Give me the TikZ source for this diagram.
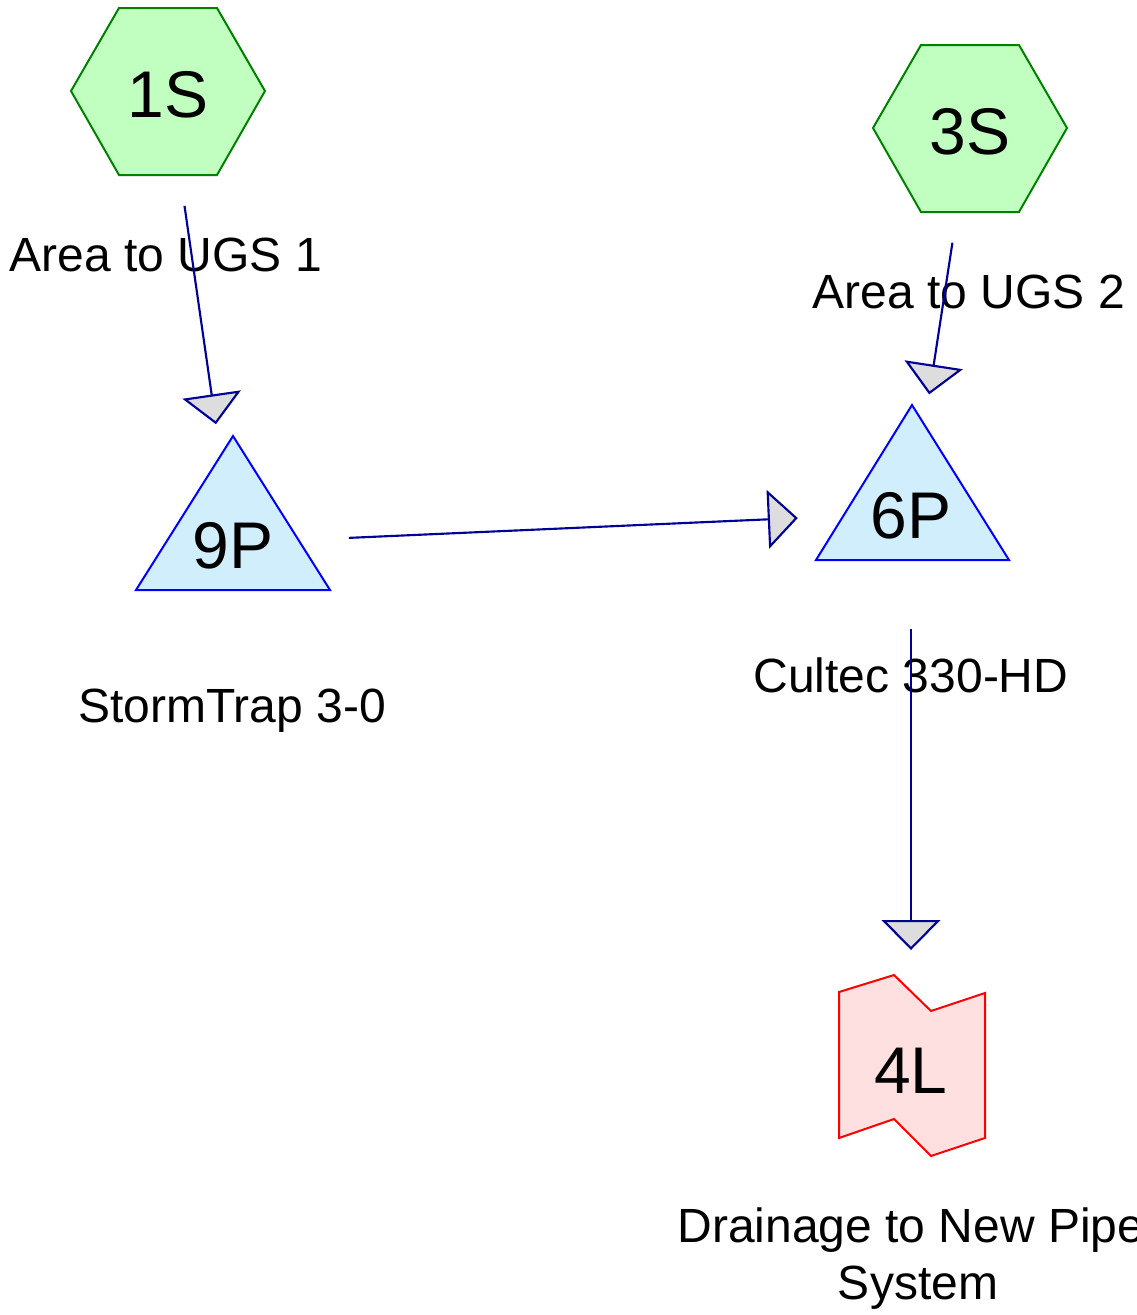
\documentclass[tikz,border=0pt]{standalone}
\usepackage{fontspec}
\setmainfont{Liberation Sans}
\usetikzlibrary{arrows.meta}
\definecolor{hexfill}{RGB}{192,255,192}
\definecolor{hexdraw}{RGB}{0,128,0}
\definecolor{pondfill}{RGB}{208,238,252}
\definecolor{ponddraw}{RGB}{0,0,255}
\definecolor{linkfill}{RGB}{255,224,224}
\definecolor{linkdraw}{RGB}{255,0,0}
\definecolor{flowcol}{RGB}{0,0,150}
\definecolor{tipfill}{RGB}{221,221,221}
\tikzset{
  hexshape/.style={draw=hexdraw,fill=hexfill,line width=1.5pt,line join=miter},
  pondshape/.style={draw=ponddraw,fill=pondfill,line width=1.5pt},
  linkshape/.style={draw=linkdraw,fill=linkfill,line width=1.5pt},
  idtext/.style={inner sep=0pt,anchor=base,font=\fontsize{49.5}{55}\selectfont},
  labeltext/.style={inner sep=0pt,anchor=base,font=\fontsize{36}{43}\selectfont,align=center},
  flow/.style={draw=flowcol,line width=1.6pt,
    -{Triangle[length=22.5pt,width=44pt,fill=tipfill]},
    shorten <=87pt,shorten >=90pt}
}
\begin{document}
\begin{tikzpicture}[x=0.75pt,y=-0.75pt]
\useasboundingbox (0,0) rectangle (1137,1315);
% shapes
\draw[hexshape] (71,91) -- (119,8) -- (217,8) -- (265,91) -- (217,175) -- (119,175) -- cycle;
\draw[hexshape] (873,128) -- (921,45) -- (1019,45) -- (1067,128) -- (1019,212) -- (921,212) -- cycle;
\draw[pondshape] (233,436) -- (330,590) -- (136,590) -- cycle;
\draw[pondshape] (912,405) -- (1009,560) -- (816,560) -- cycle;
\draw[linkshape] (839,992) -- (894,975) -- (931,1011) -- (985,993) -- (985,1138) -- (931,1156) -- (894,1119) -- (839,1138) -- cycle;
% id nodes
\node[idtext] (n1S) at (168,117) {1S};
\node[idtext] (n3S) at (970,154) {3S};
\node[idtext] (n9P) at (233,568) {9P};
\node[idtext] (n6P) at (911,538) {6P};
\node[idtext] (n4L) at (911,1093) {4L};
% centre coordinates for flows
\coordinate (c1S) at (168,91);
\coordinate (c3S) at (970,128);
\coordinate (c9P) at (233,543);
\coordinate (c6P) at (911,513);
\coordinate (c4L) at (911,1070);
% labels
\node[labeltext] (l1S) at (166,271) {Area to UGS 1};
\node[labeltext] (l3S) at (969,308) {Area to UGS 2};
\node[labeltext] (l9P) at (232,722) {StormTrap 3-0};
\node[labeltext] (l6P) at (911,692) {Cultec 330-HD};
\node[labeltext,anchor=north] (l4L) at (911,1207) {Drainage to New Pipe\\\hspace*{10.5pt}System};
% flows
\draw[flow] (c1S) -- (c9P);
\draw[flow] (c3S) -- (c6P);
\draw[flow,shorten >=85pt] (c9P) -- (c6P);
\draw[flow] (c6P) -- (c4L);
\end{tikzpicture}
\end{document}
